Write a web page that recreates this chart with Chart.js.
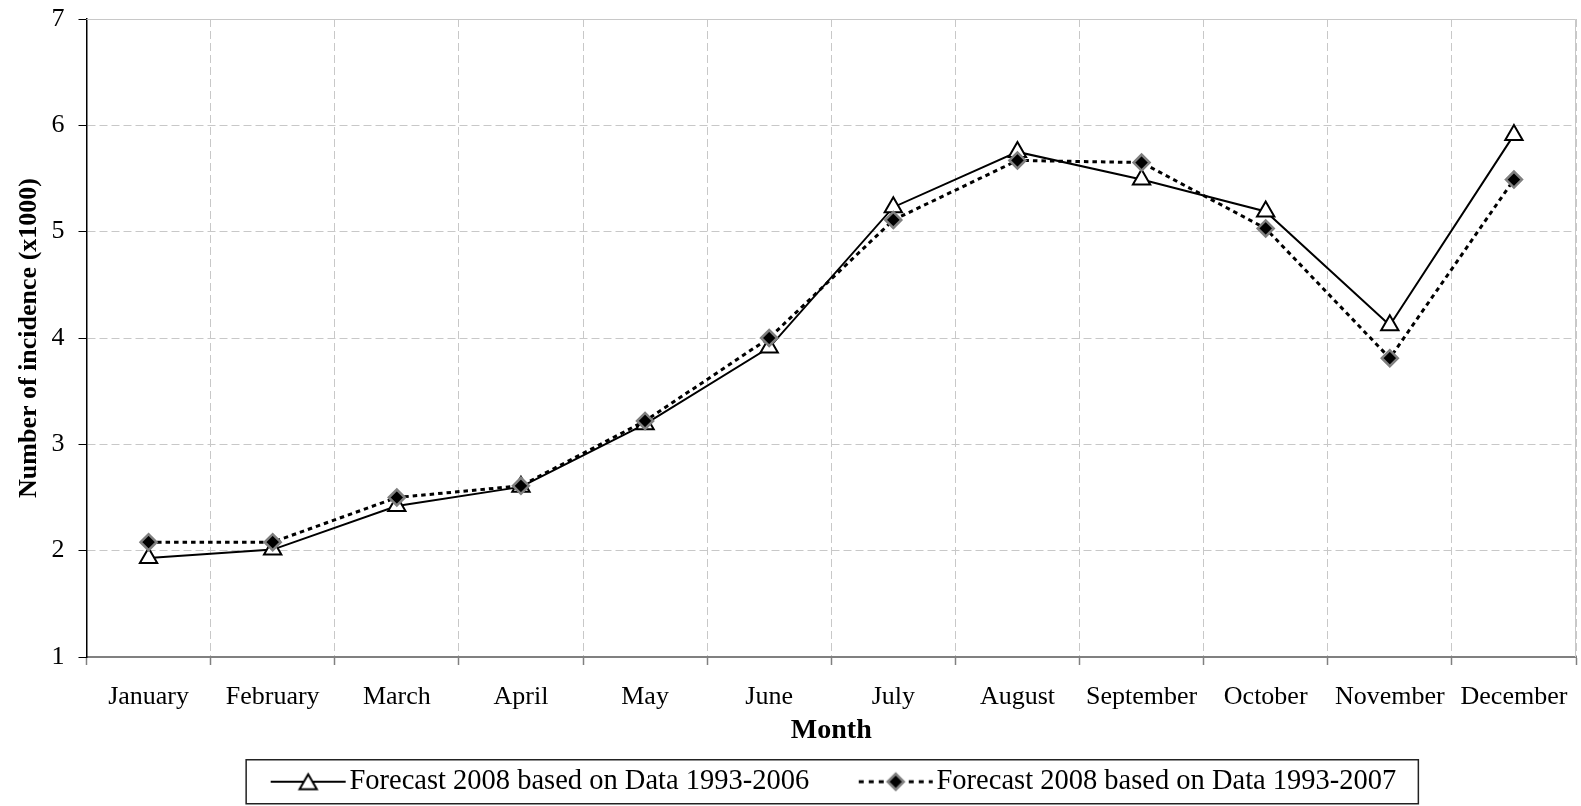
<!DOCTYPE html>
<html>
<head>
<meta charset="utf-8">
<script src="https://cdn.jsdelivr.net/npm/chart.js@4.4.0/dist/chart.umd.min.js"></script>
<style>
  html, body { margin: 0; padding: 0; background: #ffffff; }
  #c { display: block; }
</style>
</head>
<body>
<canvas id="c" width="1581" height="806"></canvas>
<script>
// Monthly forecast of incidence for 2008 (thousands)
const months = ['January', 'February', 'March', 'April', 'May', 'June',
                'July', 'August', 'September', 'October', 'November', 'December'];
const forecastFrom2006 = [1.93, 2.01, 2.42, 2.60, 3.19, 3.91, 5.23, 5.75, 5.49, 5.19, 4.12, 5.91];
const forecastFrom2007 = [2.08, 2.08, 2.50, 2.61, 3.22, 4.00, 5.11, 5.67, 5.65, 5.03, 3.81, 5.49];
const seriesNames = ['Forecast 2008 based on Data 1993-2006', 'Forecast 2008 based on Data 1993-2007'];
const yMin = 1, yMax = 7, yStep = 1;
const xTitle = 'Month';
const yTitle = 'Number of incidence (x1000)';

const SERIF = "'Liberation Serif', 'Times New Roman', serif";
const GRID = '#c8c8c8';

// Legend swatches: a short line with the series marker in the middle
function legendSwatch(kind) {
  const c = document.createElement('canvas');
  c.width = 128; c.height = 30;
  const g = c.getContext('2d');
  const cy = 15;
  g.strokeStyle = '#000';
  if (kind === 'solid') {
    g.lineWidth = 2;
    g.beginPath(); g.moveTo(51, cy); g.lineTo(126, cy); g.stroke();
    const x = 88.5, r = 10;
    g.beginPath();
    g.moveTo(x, cy - r * 0.75);
    g.lineTo(x + Math.sin(2 * Math.PI / 3) * r, cy + r * 0.75);
    g.lineTo(x - Math.sin(2 * Math.PI / 3) * r, cy + r * 0.75);
    g.closePath();
    g.fillStyle = '#fff'; g.fill();
    g.lineWidth = 2; g.stroke();
  } else {
    g.lineWidth = 3;
    g.setLineDash([5, 5]);
    g.beginPath(); g.moveTo(52, cy); g.lineTo(126, cy); g.stroke();
    g.setLineDash([]);
    const x = 89, r = 8;
    g.beginPath();
    g.moveTo(x - r, cy); g.lineTo(x, cy - r); g.lineTo(x + r, cy); g.lineTo(x, cy + r);
    g.closePath();
    g.fillStyle = '#000'; g.fill();
    g.strokeStyle = '#808080'; g.lineWidth = 2.5; g.stroke();
  }
  return c;
}
const swatches = [legendSwatch('solid'), legendSwatch('dotted')];

// Light frame on the top and right edges of the plot area
const plotFrame = {
  id: 'plotFrame',
  beforeDatasetsDraw(chart) {
    const { ctx, chartArea: a } = chart;
    ctx.save();
    ctx.strokeStyle = GRID;
    ctx.lineWidth = 1;
    ctx.beginPath();
    ctx.moveTo(a.left, a.top + 0.5);
    ctx.lineTo(a.right - 0.5, a.top + 0.5);
    ctx.lineTo(a.right - 0.5, a.bottom);
    ctx.stroke();
    ctx.restore();
  }
};

// Boxed legend, centred under the plot area
const legendBox = {
  id: 'legendBox',
  _frame(chart) {
    const hb = chart.legend && chart.legend.legendHitBoxes;
    if (!hb || hb.length < 2) return null;
    const last = hb[hb.length - 1];
    const cy = hb[0].top + hb[0].height / 2;
    return { left: hb[0].left + 14, right: last.left + last.width + 22, top: cy - 22, bottom: cy + 22 };
  },
  afterUpdate(chart) {
    const lg = chart.legend;
    const f = this._frame(chart);
    if (!f) return;
    const a = chart.chartArea;
    const dx = (a.left + a.right) / 2 + 1 - (f.left + f.right) / 2;
    lg.left += dx; lg.right += dx;
    lg.legendHitBoxes.forEach(h => { h.left += dx; });
  },
  afterDraw(chart) {
    const f = this._frame(chart);
    if (!f) return;
    const ctx = chart.ctx;
    ctx.save();
    ctx.strokeStyle = '#222';
    ctx.lineWidth = 1.5;
    ctx.strokeRect(f.left, f.top, f.right - f.left, f.bottom - f.top);
    ctx.restore();
  }
};

new Chart(document.getElementById('c'), {
  type: 'line',
  data: {
    labels: months,
    datasets: [
      {
        label: seriesNames[0],
        data: forecastFrom2006,
        borderColor: '#000',
        borderWidth: 2,
        tension: 0,
        pointStyle: 'triangle',
        pointRadius: 10,
        pointHoverRadius: 10,
        pointBackgroundColor: '#fff',
        pointBorderColor: '#000',
        pointBorderWidth: 2,
        order: 1
      },
      {
        label: seriesNames[1],
        data: forecastFrom2007,
        borderColor: '#000',
        borderWidth: 3,
        borderDash: [4.5, 4],
        tension: 0,
        pointStyle: 'rectRot',
        pointRadius: 8,
        pointHoverRadius: 8,
        pointBackgroundColor: '#000',
        pointBorderColor: '#808080',
        pointBorderWidth: 2.5,
        order: 0
      }
    ]
  },
  options: {
    responsive: false,
    animation: false,
    events: [],
    layout: { autoPadding: false, padding: { top: 19, right: 5, left: 0, bottom: 0 } },
    plugins: {
      tooltip: { enabled: false },
      legend: {
        position: 'bottom',
        fullSize: false,
        labels: {
          usePointStyle: true,
          pointStyleWidth: 103,
          padding: 10,
          color: '#000',
          font: { family: SERIF, size: 28.5 },
          generateLabels: () => seriesNames.map((t, i) => ({
            text: t,
            pointStyle: swatches[i],
            datasetIndex: i,
            hidden: false,
            lineWidth: 0,
            fontColor: '#000'
          }))
        }
      }
    },
    scales: {
      x: {
        offset: true,
        afterFit(scale) {
          scale.height = 100.5;
          scale.paddingLeft = 0;
          scale.paddingRight = 0;
        },
        grid: {
          offset: true,
          color: GRID,
          lineWidth: 1,
          tickColor: '#808080',
          tickLength: 8,
          tickWidth: 1.5,
          tickBorderDash: []
        },
        border: { color: '#808080', width: 2, dash: [8, 4] },
        ticks: {
          color: '#000',
          font: { family: SERIF, size: 26 },
          padding: 17,
          maxRotation: 0,
          autoSkip: false
        },
        title: {
          display: true,
          text: xTitle,
          color: '#000',
          font: { family: SERIF, size: 28, weight: 'bold' },
          padding: { top: 0, bottom: 9.7 }
        }
      },
      y: {
        min: yMin,
        max: yMax,
        afterFit(scale) {
          scale.width = 86.5;
          scale.paddingTop = 0;
          scale.paddingBottom = 0;
        },
        grid: {
          color: GRID,
          lineWidth: 1,
          tickColor: '#000',
          tickLength: 8,
          tickBorderDash: []
        },
        border: { color: '#000', width: 1.5, dash: [8, 4] },
        ticks: {
          stepSize: yStep,
          color: '#000',
          font: { family: SERIF, size: 26 },
          padding: 14
        },
        title: {
          display: true,
          text: yTitle,
          color: '#000',
          font: { family: SERIF, size: 26, weight: 'bold' },
          padding: { top: 14, bottom: 6 }
        }
      }
    }
  },
  plugins: [plotFrame, legendBox]
});
</script>
</body>
</html>
